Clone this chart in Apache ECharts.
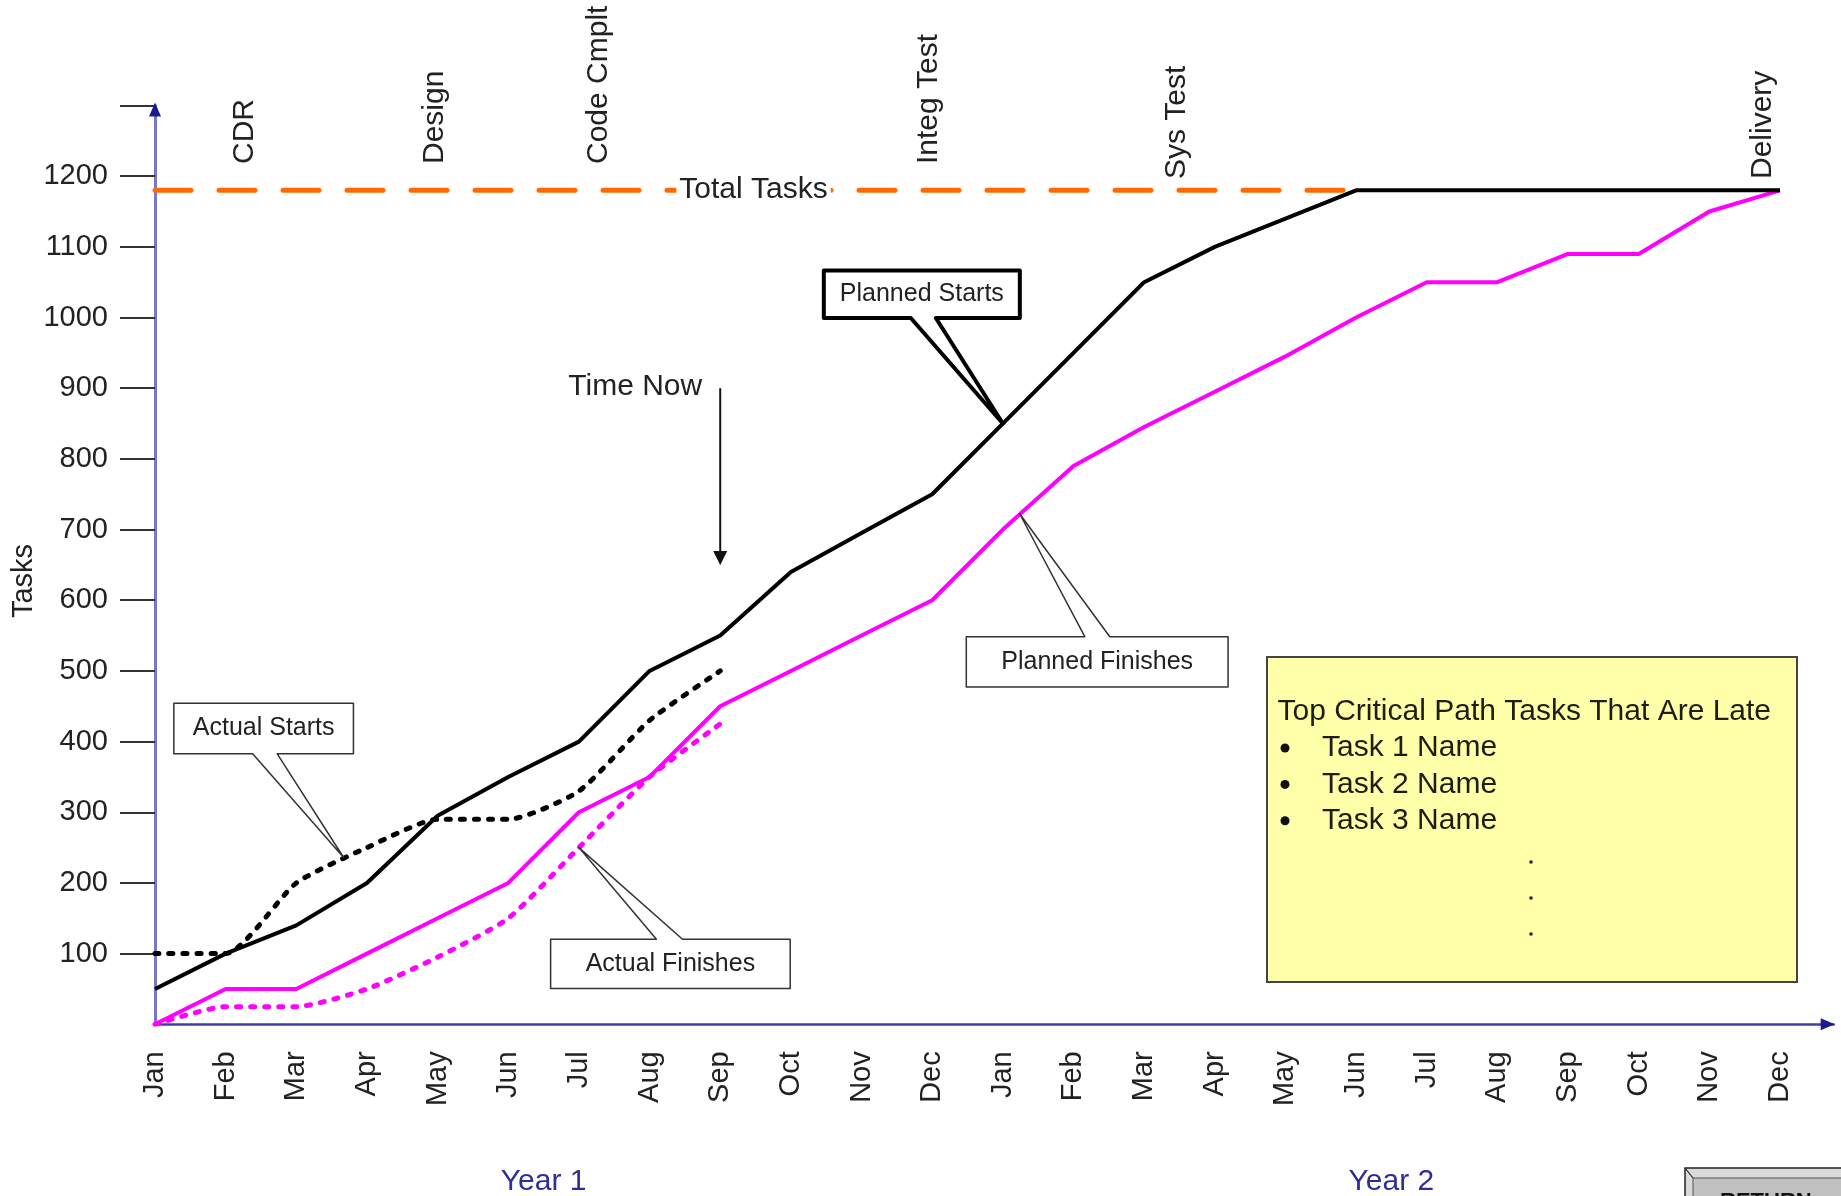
<!DOCTYPE html>
<html><head><meta charset="utf-8">
<script src="https://cdn.jsdelivr.net/npm/echarts@6/dist/echarts.min.js"></script>
<style>html,body{margin:0;padding:0;background:#fff;}#c{width:1841px;height:1196px;}</style>
</head><body><div id="c"></div>
<script>
// ---------- data ----------
const months = ['Jan','Feb','Mar','Apr','May','Jun','Jul','Aug','Sep','Oct','Nov','Dec',
                'Jan','Feb','Mar','Apr','May','Jun','Jul','Aug','Sep','Oct','Nov','Dec'];
const yTickValues = [100,200,300,400,500,600,700,800,900,1000,1100,1200,1300];
const yLabelValues = [100,200,300,400,500,600,700,800,900,1000,1100,1200];
const plannedStarts   = [50,100,140,200,295,350,400,500,550,640,695,750,
                         850,950,1050,1100,1140,1180,1180,1180,1180,1180,1180,1180];
const plannedFinishes = [0,50,50,100,150,200,300,350,450,500,550,600,
                         700,790,845,895,945,1000,1050,1050,1090,1090,1150,1180];
const actualStarts    = [100,100,200,250,290,290,330,430,500];
const actualFinishes  = [0,25,25,50,95,150,250,350,425];
const totalTasks = 1180;
const totalTasksEndMonth = 17;
const milestoneNames  = ['CDR','Design','Code Cmplt','Integ Test','Sys Test','Delivery'];
const milestoneMonths = [1.27, 3.96, 6.28, 10.95, 14.46, 22.76];
const yearNames   = ['Year 1','Year 2'];
const yearCenters = [5.5, 17.5];
const timeNowMonth = 8;
const lateTasksTitle = 'Top Critical Path Tasks That Are Late';
const lateTasks = ['Task 1 Name','Task 2 Name','Task 3 Name'];

// ---------- chart ----------
const FONT = '"Liberation Sans", Arial, Helvetica, sans-serif';
const pairs = arr => arr.map((v, i) => [i, v]);
const chart = echarts.init(document.getElementById('c'), null, {renderer: 'canvas'});

const option = {
  animation: false,
  backgroundColor: '#ffffff',
  textStyle: {fontFamily: FONT},
  grid: {left: 155, right: 7.3, top: 105.5, bottom: 171.7, containLabel: false},
  xAxis: {
    type: 'value', min: 0, max: 23.76, interval: 1,
    axisLine: {show: true, lineStyle: {color: '#3f3fa3', width: 2.5}},
    axisTick: {show: false},
    splitLine: {show: false},
    axisLabel: {
      customValues: months.map((m, i) => i),
      formatter: v => (Number.isInteger(v) && months[v]) ? months[v] : '',
      rotate: 90, margin: 27, fontSize: 29, color: '#222', fontFamily: FONT
    }
  },
  yAxis: {
    type: 'value', min: 0, max: 1300, interval: 100,
    axisLine: {show: true, lineStyle: {color: '#7878c6', width: 3}},
    axisTick: {show: true, customValues: yTickValues, length: 35, lineStyle: {color: '#333', width: 2}},
    splitLine: {show: false},
    axisLabel: {
      customValues: yLabelValues,
      formatter: v => (v > 0 && v <= 1200) ? String(v) : '',
      margin: 47, fontSize: 29, color: '#222', fontFamily: FONT
    }
  },
  series: [
    {
      name: 'Total Tasks', type: 'line', symbol: 'none', silent: true,
      data: [[0, totalTasks], [totalTasksEndMonth, totalTasks]],
      lineStyle: {color: '#ff6a00', width: 5, type: [36, 28], cap: 'round'}
    },
    {
      name: 'Planned Finishes', type: 'line', symbol: 'none', silent: true,
      data: pairs(plannedFinishes),
      lineStyle: {color: '#ff00ff', width: 4}
    },
    {
      name: 'Planned Starts', type: 'line', symbol: 'none', silent: true,
      data: pairs(plannedStarts),
      lineStyle: {color: '#000000', width: 4}
    },
    {
      name: 'Actual Finishes', type: 'line', symbol: 'none', silent: true, smooth: 0.2,
      data: pairs(actualFinishes),
      lineStyle: {color: '#ff00ff', width: 5, type: [4, 10], cap: 'round'}
    },
    {
      name: 'Actual Starts', type: 'line', symbol: 'none', silent: true, smooth: 0.2,
      data: pairs(actualStarts),
      lineStyle: {color: '#000000', width: 5, type: [4, 10], cap: 'round'}
    }
  ]
};
chart.setOption(option);

// ---------- annotations ----------
const px = (x, y) => chart.convertToPixel({gridIndex: 0}, [x, y]);
const g = [];

function textEl(x, y, text, opts) {
  return Object.assign({
    type: 'text', x: x, y: y, silent: true, z: 100,
    style: Object.assign({text: text, fontSize: 30, fontFamily: FONT, fill: '#222',
                          align: 'center', verticalAlign: 'middle'}, opts && opts.style)
  }, opts && opts.el);
}

// Total Tasks label on the dashed line
const tt = px(totalTasksEndMonth / 2, totalTasks);
g.push(textEl(tt[0] - 2, tt[1] - 1, 'Total Tasks', {style: {backgroundColor: '#ffffff', padding: [2, 3], fontSize: 30}}));

// Axis arrows
const o = px(0, 0);
const yTop = px(0, 1300);
const xEnd = px(23.76, 0);
g.push({type: 'polygon', silent: true, z: 100, shape: {points: [[o[0], yTop[1] - 3], [o[0] - 6, yTop[1] + 11], [o[0] + 6, yTop[1] + 11]]}, style: {fill: '#1a1a90'}});
g.push({type: 'polygon', silent: true, z: 100, shape: {points: [[xEnd[0] + 1, o[1]], [xEnd[0] - 13, o[1] - 6], [xEnd[0] - 13, o[1] + 6]]}, style: {fill: '#1a1a90'}});

// Milestone labels
const milestoneBottom = [164, 164, 164, 164, 179, 179];
milestoneNames.forEach((n, i) => {
  const p = px(milestoneMonths[i], 0);
  g.push(textEl(p[0], milestoneBottom[i], n, {el: {rotation: Math.PI / 2}, style: {align: 'left', verticalAlign: 'middle'}}));
});

// Y axis name
g.push(textEl(23.5, 581, 'Tasks', {el: {rotation: Math.PI / 2}, style: {fontSize: 29}}));

// Year labels
yearNames.forEach((n, i) => {
  const p = px(yearCenters[i], 0);
  g.push(textEl(p[0], 1182, n, {style: {fill: '#2e2e96', fontSize: 30}}));
});

// Time Now arrow
const tTop = px(timeNowMonth, 900);
const tTip = px(timeNowMonth, 650);
g.push({type: 'line', silent: true, z: 100, shape: {x1: tTop[0], y1: tTop[1], x2: tTip[0], y2: tTip[1] - 10}, style: {stroke: '#111', lineWidth: 2}});
g.push({type: 'polygon', silent: true, z: 100, shape: {points: [[tTip[0], tTip[1]], [tTip[0] - 7, tTip[1] - 14], [tTip[0] + 7, tTip[1] - 14]]}, style: {fill: '#111'}});
g.push(textEl(tTop[0] - 18, tTop[1] - 1, 'Time Now', {style: {align: 'right', fontSize: 30}}));

// Callouts
function callout(anchor, box, base, text, lw, wedgeTop) {
  const a = px(anchor[0], anchor[1]);
  const [L, T, R, B] = box.map((v, i) => (i % 2 === 0 ? a[0] : a[1]) + v);
  const b1 = a[0] + base[0], b2 = a[0] + base[1];
  const pts = wedgeTop
    ? [[L, T], [b1, T], [a[0], a[1]], [b2, T], [R, T], [R, B], [L, B]]
    : [[L, T], [R, T], [R, B], [b2, B], [a[0], a[1]], [b1, B], [L, B]];
  g.push({type: 'polygon', silent: true, z: 90, shape: {points: pts},
          style: {fill: '#ffffff', stroke: lw > 2 ? '#000' : '#333', lineWidth: lw, lineJoin: 'round'}});
  g.push(textEl((L + R) / 2, (T + B) / 2, text, {style: {fontSize: 25}}));
}
callout([12, 850],   [-179, -153, 17, -105.5], [-92, -67], 'Planned Starts', 4, false);
callout([12.24, 722], [-53.5, 122.7, 208.3, 173.1], [65, 90], 'Planned Finishes', 1.5, true);
callout([2.67, 236], [-169.8, -154.2, 9.8, -103.7], [-91, -66.4], 'Actual Starts', 1.5, false);
callout([6, 250],    [-28.3, 91.7, 211.3, 141], [77.5, 103.6], 'Actual Finishes', 1.5, true);

// Late tasks box
g.push({type: 'rect', silent: true, z: 90, shape: {x: 1267, y: 657, width: 530, height: 325},
        style: {fill: '#ffffaa', stroke: '#444', lineWidth: 2}});
g.push(textEl(1277.5, 712, lateTasksTitle, {style: {align: 'left', fontSize: 30, fill: '#1d1d10'}}));
lateTasks.forEach((t, i) => {
  const y = 748 + i * 36.4;
  g.push({type: 'circle', silent: true, z: 100, shape: {cx: 1285, cy: y, r: 4.5}, style: {fill: '#111'}});
  g.push(textEl(1322, y, t, {style: {align: 'left', fontSize: 30, fill: '#1d1d10'}}));
});
[862, 898, 934].forEach(y => {
  g.push({type: 'circle', silent: true, z: 100, shape: {cx: 1531, cy: y, r: 1.8}, style: {fill: '#222'}});
});

// Return button (partly visible)
g.push({type: 'rect', silent: true, z: 90, shape: {x: 1685, y: 1168, width: 200, height: 60}, style: {fill: '#dadada', stroke: '#222', lineWidth: 1.5}});
g.push({type: 'rect', silent: true, z: 91, shape: {x: 1693, y: 1178, width: 200, height: 60}, style: {fill: '#c0c0c0', stroke: '#555', lineWidth: 1}});
g.push({type: 'line', silent: true, z: 92, shape: {x1: 1685, y1: 1168, x2: 1693, y2: 1178}, style: {stroke: '#222', lineWidth: 1.2}});
g.push(textEl(1720, 1191, 'RETURN', {style: {align: 'left', verticalAlign: 'top', fontSize: 22, fontWeight: 'bold', fill: '#111'}}));

chart.setOption({graphic: g});
</script>
</body></html>
